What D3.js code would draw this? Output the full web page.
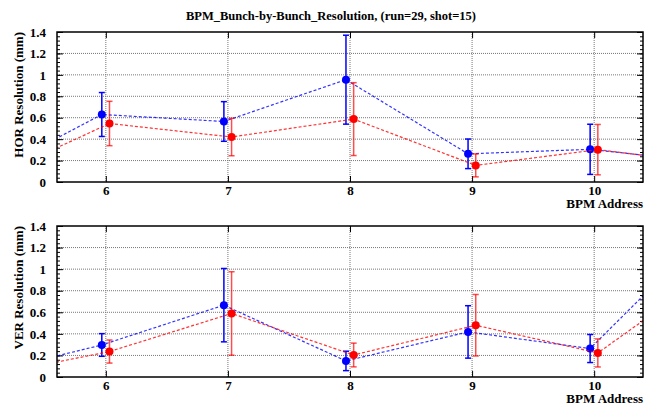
<!DOCTYPE html>
<html>
<head>
<meta charset="utf-8">
<script src="https://cdn.jsdelivr.net/npm/d3@7"></script>
<style>
  body { margin: 0; background: #fff; }
  svg text { font-family: 'Liberation Serif', 'Times New Roman', serif; font-weight: bold; }
</style>
</head>
<body>
<div id="chart"></div>
<script>
// BPM addresses (5 and 11 lie outside the visible range, only the lines reach in)
const addresses = [5, 6, 7, 8, 9, 10, 11]
const xTicks = [6, 7, 8, 9, 10]
const yMajor = [0, 0.2, 0.4, 0.6, 0.8, 1, 1.2, 1.4]
const yMinor = d3.range(0, 1.4001, 0.04)

const horBlue = [0.03, 0.63, 0.565, 0.955, 0.263, 0.305, 0.18]
const horBlueErr = [0, 0.205, 0.185, 0.415, 0.138, 0.234, 0]
const horRed = [0.02, 0.546, 0.42, 0.587, 0.155, 0.302, 0.16]
const horRedErr = [0, 0.207, 0.175, 0.34, 0.107, 0.235, 0]

const verBlue = [0.02, 0.297, 0.666, 0.149, 0.418, 0.264, 1.39]
const verBlueErr = [0, 0.105, 0.34, 0.09, 0.243, 0.13, 0]
const verRed = [0.01, 0.236, 0.589, 0.204, 0.48, 0.223, 1.03]
const verRedErr = [0, 0.107, 0.387, 0.11, 0.285, 0.13, 0]

const titleText = 'BPM_Bunch-by-Bunch_Resolution, (run=29, shot=15)'

const panels = [
  { label: 'HOR Resolution (mm)', top: 32, bottom: 182, blue: horBlue, blueErr: horBlueErr, red: horRed, redErr: horRedErr },
  { label: 'VER Resolution (mm)', top: 226, bottom: 377, blue: verBlue, blueErr: verBlueErr, red: verRed, redErr: verRedErr }
]

const width = 652
const height = 405
const left = 57
const right = 643

const svg = d3.select('#chart')
  .append('svg')
  .attr('width', width)
  .attr('height', height)

svg.append('text')
  .attr('x', 331)
  .attr('y', 20)
  .attr('text-anchor', 'middle')
  .attr('font-size', '12.5px')
  .text(titleText)

const xScale = d3.scaleLinear()
  .domain([5.6, 10.4])
  .range([left, right])

panels.forEach((p, pi) => {
  const yScale = d3.scaleLinear()
    .domain([0, 1.4])
    .range([p.bottom, p.top])

  const g = svg.append('g')

  g.append('clipPath')
    .attr('id', `clip${pi}`)
    .append('rect')
    .attr('x', left)
    .attr('y', p.top)
    .attr('width', right - left)
    .attr('height', p.bottom - p.top)

  // dotted grid
  g.selectAll('.hgrid')
    .data(yMajor.slice(1, -1))
    .enter().append('line')
    .attr('x1', left)
    .attr('x2', right)
    .attr('y1', d => yScale(d))
    .attr('y2', d => yScale(d))
    .attr('stroke', '#777')
    .attr('stroke-width', 1)
    .attr('stroke-dasharray', '1 1')

  g.selectAll('.vgrid')
    .data(xTicks)
    .enter().append('line')
    .attr('x1', d => xScale(d))
    .attr('x2', d => xScale(d))
    .attr('y1', p.top)
    .attr('y2', p.bottom)
    .attr('stroke', '#777')
    .attr('stroke-width', 1)
    .attr('stroke-dasharray', '1 1')

  // ticks, inward on all four sides
  g.append('g').attr('transform', `translate(${left},0)`)
    .call(d3.axisLeft(yScale).tickValues(yMinor).tickSize(-3).tickFormat(''))
    .call(s => s.select('.domain').remove())
  g.append('g').attr('transform', `translate(${left},0)`)
    .call(d3.axisLeft(yScale).tickValues(yMajor).tickSize(-6).tickFormat(''))
    .call(s => s.select('.domain').remove())
  g.append('g').attr('transform', `translate(${right},0)`)
    .call(d3.axisRight(yScale).tickValues(yMinor).tickSize(-3).tickFormat(''))
    .call(s => s.select('.domain').remove())
  g.append('g').attr('transform', `translate(${right},0)`)
    .call(d3.axisRight(yScale).tickValues(yMajor).tickSize(-6).tickFormat(''))
    .call(s => s.select('.domain').remove())
  g.append('g').attr('transform', `translate(0,${p.top})`)
    .call(d3.axisTop(xScale).tickValues(xTicks).tickSize(-6).tickFormat(''))
    .call(s => s.select('.domain').remove())
  g.append('g').attr('transform', `translate(0,${p.bottom})`)
    .call(d3.axisBottom(xScale).tickValues(xTicks).tickSize(-6).tickFormat(''))
    .call(s => s.select('.domain').remove())

  g.selectAll('.tick line').attr('stroke', '#000').attr('stroke-width', 1)

  // tick labels
  g.append('g').attr('transform', `translate(${left},0)`)
    .call(d3.axisLeft(yScale).tickValues(yMajor).tickSize(0).tickPadding(11).tickFormat(d3.format('~g')))
    .call(s => s.select('.domain').remove())
    .selectAll('text')
    .attr('font-size', '13px')
    .attr('fill', '#000')
    .attr('font-family', null)

  g.append('g').attr('transform', `translate(0,${p.bottom})`)
    .call(d3.axisBottom(xScale).tickValues(xTicks).tickSize(0).tickPadding(4).tickFormat(d3.format('d')))
    .call(s => s.select('.domain').remove())
    .selectAll('text')
    .attr('font-size', '13px')
    .attr('fill', '#000')
    .attr('font-family', null)

  g.append('text')
    .attr('x', right)
    .attr('y', p.bottom + 26)
    .attr('text-anchor', 'end')
    .attr('font-size', '13px')
    .text('BPM Address')

  g.append('text')
    .attr('transform', `translate(23,${p.top}) rotate(-90)`)
    .attr('text-anchor', 'end')
    .attr('font-size', '13px')
    .text(p.label)

  // data
  const data = g.append('g').attr('clip-path', `url(#clip${pi})`)
  const series = [
    { vals: p.blue, errs: p.blueErr, color: '#0000ff', off: -0.033, barOpacity: 1 },
    { vals: p.red, errs: p.redErr, color: '#ff0000', off: 0.03, barOpacity: 0.7 }
  ]
  series.forEach(s => {
    const pts = addresses.map((a, i) => ({ x: a + s.off, y: s.vals[i], e: s.errs[i] }))
    const line = d3.line().x(d => xScale(d.x)).y(d => yScale(d.y))
    data.append('path')
      .attr('d', line(pts))
      .attr('fill', 'none')
      .attr('stroke', s.color)
      .attr('stroke-width', 1.2)
      .attr('stroke-opacity', 0.8)
      .attr('stroke-dasharray', '3 2')

    const bars = data.selectAll(null)
      .data(pts.filter(d => d.e > 0))
      .enter().append('g')
      .attr('stroke', s.color)
      .attr('stroke-opacity', s.barOpacity)
      .attr('stroke-width', 1.5)
    bars.append('line')
      .attr('x1', d => xScale(d.x)).attr('x2', d => xScale(d.x))
      .attr('y1', d => yScale(d.y - d.e)).attr('y2', d => yScale(d.y + d.e))
    bars.append('line')
      .attr('x1', d => xScale(d.x) - 3).attr('x2', d => xScale(d.x) + 3)
      .attr('y1', d => yScale(d.y + d.e)).attr('y2', d => yScale(d.y + d.e))
    bars.append('line')
      .attr('x1', d => xScale(d.x) - 3).attr('x2', d => xScale(d.x) + 3)
      .attr('y1', d => yScale(d.y - d.e)).attr('y2', d => yScale(d.y - d.e))

    data.selectAll(null)
      .data(pts)
      .enter().append('circle')
      .attr('cx', d => xScale(d.x))
      .attr('cy', d => yScale(d.y))
      .attr('r', 4)
      .attr('fill', s.color)
  })

  g.append('rect')
    .attr('x', left)
    .attr('y', p.top)
    .attr('width', right - left)
    .attr('height', p.bottom - p.top)
    .attr('fill', 'none')
    .attr('stroke', '#000')
    .attr('stroke-width', 1.5)
})
</script>
</body>
</html>
